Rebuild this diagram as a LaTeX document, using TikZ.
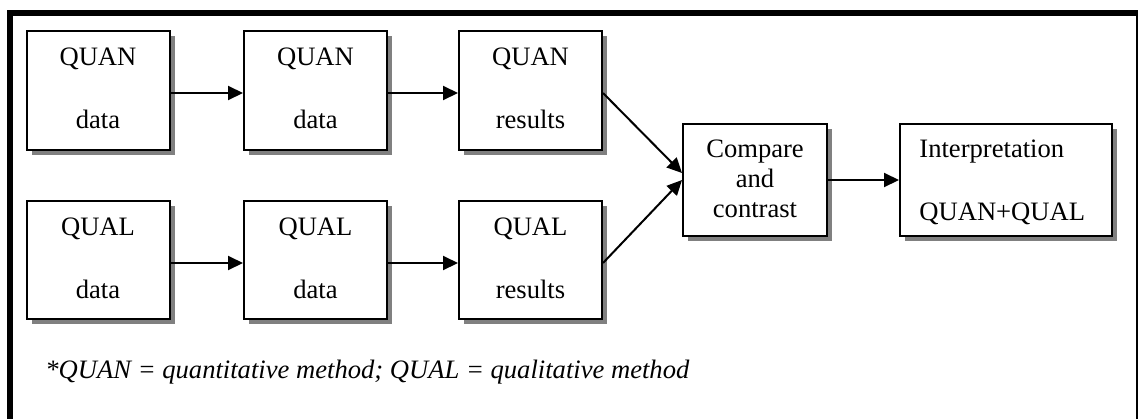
\documentclass[tikz,border=0pt]{standalone}
\usepackage{fontspec}
\setmainfont{Liberation Serif}
\usetikzlibrary{arrows.meta,shadows}
\begin{document}
\begin{tikzpicture}[x=0.5pt,y=-0.5pt,
  stage/.style={draw,line width=1pt,fill=white,inner sep=0pt,
    drop shadow={shadow xshift=2.5pt,shadow yshift=-2.5pt,fill=black!50,opacity=1}},
  smallbox/.style={stage,minimum width=71.5pt,minimum height=59.5pt},
  txt/.style={inner sep=0pt,anchor=base,font=\fontsize{13.3}{15}\selectfont},
  flow/.style={line width=1pt,-{Triangle[length=7.5pt,width=7pt]}}]
\useasboundingbox (0,0) rectangle (1138,418);
% outer frame (right and bottom edges run off the page)
\draw[line width=3pt] (10,13) rectangle (1139,440);

% first row: quantitative strand
\node[smallbox] (n1) at (98,90.5) {};
\node[smallbox] (n2) at (315.5,90.5) {};
\node[smallbox] (n3) at (530.5,90.5) {};
% second row: qualitative strand
\node[smallbox,minimum height=59pt] (l1) at (98,260) {};
\node[smallbox,minimum height=59pt] (l2) at (315.5,260) {};
\node[smallbox,minimum height=59pt] (l3) at (530.5,260) {};
% merging stages
\node[stage,minimum width=72pt,minimum height=56pt] (cmp) at (755,180) {};
\node[stage,minimum width=106pt,minimum height=56pt] (itp) at (1006,180) {};

% labels
\node[txt] (t11) at (98,65) {QUAN};
\node[txt] (t12) at (98,128) {data};
\node[txt] (t21) at (315.5,65) {QUAN};
\node[txt] (t22) at (315.5,128) {data};
\node[txt] (t31) at (530.5,65) {QUAN};
\node[txt] (t32) at (530.5,128) {results};
\node[txt] (u11) at (98,235) {QUAL};
\node[txt] (u12) at (98,298) {data};
\node[txt] (u21) at (315.5,235) {QUAL};
\node[txt] (u22) at (315.5,298) {data};
\node[txt] (u31) at (530.5,235) {QUAL};
\node[txt] (u32) at (530.5,298) {results};
\node[txt] (c1) at (755,157) {Compare};
\node[txt] (c2) at (755,187) {and};
\node[txt] (c3) at (755,217) {contrast};
\node[txt,anchor=base west] (i1) at (919,157) {Interpretation};
\node[txt,anchor=base west] (i2) at (919,220) {QUAN+QUAL};

% connectors
\draw[flow] ([yshift=-1.25pt]n1.east) -- ([yshift=-1.25pt]n2.west);
\draw[flow] ([yshift=-1.25pt]n2.east) -- ([yshift=-1.25pt]n3.west);
\draw[flow] ([yshift=-1.5pt]l1.east) -- ([yshift=-1.5pt]l2.west);
\draw[flow] ([yshift=-1.5pt]l2.east) -- ([yshift=-1.5pt]l3.west);
\draw[flow] ([yshift=-1.25pt]n3.east) -- ([yshift=3.5pt]cmp.west);
\draw[flow] ([yshift=-1.5pt]l3.east) -- (cmp.west);
\draw[flow] (cmp.east) -- (itp.west);

% footnote
\node[inner sep=0pt,anchor=base west,font=\fontsize{13.3}{15}\selectfont\itshape] (note) at (45,378)
  {*QUAN = quantitative method; QUAL = qualitative method};
\end{tikzpicture}
\end{document}
